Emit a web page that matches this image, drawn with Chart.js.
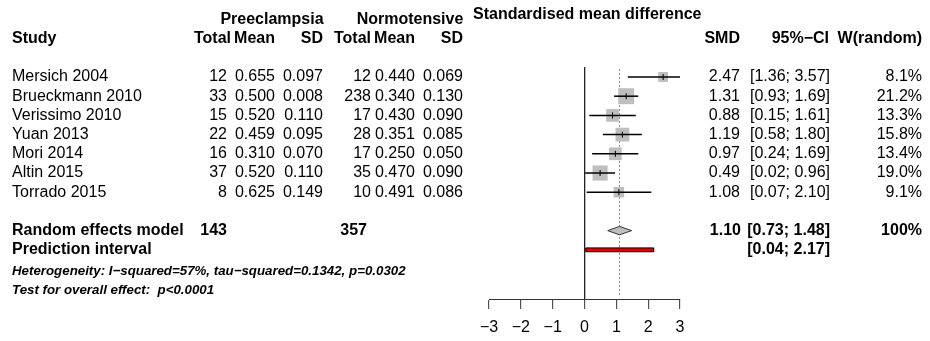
<!DOCTYPE html>
<html lang="en">
<head>
    <meta charset="UTF-8">
    <title>Forest plot</title>
    <style>
        body { margin: 0; background: #fff; }
        .wrap { width: 930px; height: 341px; position: relative; }
    </style>
</head>
<body>
    <div class="wrap">
        <canvas id="forest"></canvas>
    </div>

    <script src="https://cdn.jsdelivr.net/npm/chart.js"></script>
    <script>
        // Study data
        const studies = ['Mersich 2004', 'Brueckmann 2010', 'Verissimo 2010', 'Yuan 2013', 'Mori 2014', 'Altin 2015', 'Torrado 2015'];
        const peTotal = [12, 33, 15, 22, 16, 37, 8];
        const peMean = [0.655, 0.500, 0.520, 0.459, 0.310, 0.520, 0.625];
        const peSD = [0.097, 0.008, 0.110, 0.095, 0.070, 0.110, 0.149];
        const nTotal = [12, 238, 17, 28, 17, 35, 10];
        const nMean = [0.440, 0.340, 0.430, 0.351, 0.250, 0.470, 0.491];
        const nSD = [0.069, 0.130, 0.090, 0.085, 0.050, 0.090, 0.086];
        const smd = [2.47, 1.31, 0.88, 1.19, 0.97, 0.49, 1.08];
        const ciLow = [1.36, 0.93, 0.15, 0.58, 0.24, 0.02, 0.07];
        const ciHigh = [3.57, 1.69, 1.61, 1.80, 1.69, 0.96, 2.10];
        const weight = [8.1, 21.2, 13.3, 15.8, 13.4, 19.0, 9.1];

        // Random effects summary + prediction interval
        const pooled = [1.10, 0.73, 1.48];
        const predInt = [0.04, 2.17];
        const xTicks = [-3, -2, -1, 0, 1, 2, 3];

        const FONT = "'Liberation Sans', Arial, Helvetica, sans-serif";
        const rowPooled = 8, rowPred = 9;
        const yMin = -0.52, yMax = 11.56;

        const fmt = (v, d) => v.toFixed(d);
        const minus = s => String(s).replace(/-/g, '\u2212');
        const sum = a => a.reduce((p, c) => p + c, 0);

        // CI whiskers, one dataset per study
        const whiskers = studies.map((s, i) => ({
            data: [{ x: ciLow[i], y: i }, { x: ciHigh[i], y: i }],
            showLine: true,
            borderColor: '#000',
            borderWidth: 1.5,
            pointRadius: 0,
            order: 1
        }));

        const datasets = [
            {
                // small tick at point estimate
                data: smd.map((v, i) => ({ x: v, y: i })),
                pointStyle: 'line',
                pointRotation: 90,
                pointRadius: 3,
                pointBorderColor: '#000',
                pointBorderWidth: 1,
                order: 0
            },
            ...whiskers,
            {
                // weight squares
                data: smd.map((v, i) => ({ x: v, y: i })),
                pointStyle: 'rect',
                pointRadius: weight.map(w => 2.45 * Math.sqrt(w)),
                pointBackgroundColor: '#bebebe',
                pointBorderWidth: 0,
                order: 2
            },
            {
                // summary diamond
                data: [
                    { x: pooled[1], y: rowPooled },
                    { x: pooled[0], y: rowPooled - 0.22 },
                    { x: pooled[2], y: rowPooled },
                    { x: pooled[0], y: rowPooled + 0.22 },
                    { x: pooled[1], y: rowPooled }
                ],
                showLine: true,
                fill: 'shape',
                backgroundColor: '#bebebe',
                borderColor: '#333',
                borderWidth: 1,
                pointRadius: 0,
                order: 3
            },
            {
                // prediction interval bar
                data: [
                    { x: predInt[0], y: rowPred - 0.1 },
                    { x: predInt[1], y: rowPred - 0.1 },
                    { x: predInt[1], y: rowPred + 0.1 },
                    { x: predInt[0], y: rowPred + 0.1 },
                    { x: predInt[0], y: rowPred - 0.1 }
                ],
                showLine: true,
                fill: 'shape',
                backgroundColor: '#e00000',
                borderColor: '#000',
                borderWidth: 1,
                pointRadius: 0,
                order: 3
            },
            {
                // dotted line at the pooled estimate
                data: [{ x: pooled[0], y: yMin + 0.1 }, { x: pooled[0], y: yMax - 0.1 }],
                showLine: true,
                borderColor: '#888',
                borderWidth: 1,
                borderDash: [2, 2],
                pointRadius: 0,
                order: 4
            }
        ];

        // Table text drawn next to the plot
        const tablePlugin = {
            id: 'forestTable',
            afterDraw(chart) {
                const ctx = chart.ctx;
                const y = chart.scales.y;
                const reg = '16px ' + FONT;
                const bold = 'bold 16px ' + FONT;
                const txt = (s, x, row, align, font) => {
                    ctx.font = font || reg;
                    ctx.textAlign = align || 'right';
                    ctx.fillText(s, x, y.getPixelForValue(row));
                };
                ctx.save();
                ctx.fillStyle = '#000';
                ctx.textBaseline = 'middle';

                // headers
                txt('Preeclampsia', 272, -3, 'center', bold);
                txt('Normotensive', 410, -3, 'center', bold);
                txt('Standardised mean difference', 473, -3.25, 'left', bold);
                txt('Study', 12, -2, 'left', bold);
                txt('Total', 231, -2, 'right', bold);
                txt('Mean', 275, -2, 'right', bold);
                txt('SD', 323, -2, 'right', bold);
                txt('Total', 371, -2, 'right', bold);
                txt('Mean', 415, -2, 'right', bold);
                txt('SD', 463, -2, 'right', bold);
                txt('SMD', 740, -2, 'right', bold);
                txt(minus('95%-CI'), 829, -2, 'right', bold);
                txt('W(random)', 922, -2, 'right', bold);

                studies.forEach((s, i) => {
                    txt(s, 12, i, 'left');
                    txt(String(peTotal[i]), 227, i);
                    txt(fmt(peMean[i], 3), 275, i);
                    txt(fmt(peSD[i], 3), 323, i);
                    txt(String(nTotal[i]), 371, i);
                    txt(fmt(nMean[i], 3), 415, i);
                    txt(fmt(nSD[i], 3), 463, i);
                    txt(fmt(smd[i], 2), 740, i);
                    txt('[' + fmt(ciLow[i], 2) + '; ' + fmt(ciHigh[i], 2) + ']', 830, i);
                    txt(fmt(weight[i], 1) + '%', 922, i);
                });

                txt('Random effects model', 12, rowPooled, 'left', bold);
                txt(String(sum(peTotal)), 227, rowPooled, 'right', bold);
                txt(String(sum(nTotal)), 367, rowPooled, 'right', bold);
                txt(fmt(pooled[0], 2), 741, rowPooled, 'right', bold);
                txt('[' + fmt(pooled[1], 2) + '; ' + fmt(pooled[2], 2) + ']', 830, rowPooled, 'right', bold);
                txt('100%', 922, rowPooled, 'right', bold);

                txt('Prediction interval', 12, rowPred, 'left', bold);
                txt('[' + fmt(predInt[0], 2) + '; ' + fmt(predInt[1], 2) + ']', 830, rowPred, 'right', bold);

                const it = 'italic bold 13.3px ' + FONT;
                txt(minus('Heterogeneity: I-squared=57%, tau-squared=0.1342, p=0.0302'), 12, 10.1, 'left', it);
                txt('Test for overall effect:  p<0.0001', 12, 11.12, 'left', it);
                ctx.restore();
            }
        };

        new Chart(document.getElementById('forest'), {
            type: 'scatter',
            data: { datasets },
            options: {
                responsive: true,
                maintainAspectRatio: false,
                animation: false,
                events: [],
                layout: { padding: { left: 489, right: 250, top: 67, bottom: 0 } },
                plugins: {
                    legend: { display: false },
                    tooltip: { enabled: false }
                },
                scales: {
                    x: {
                        type: 'linear',
                        min: -3,
                        max: 3,
                        afterBuildTicks: s => { s.ticks = xTicks.map(v => ({ value: v })); },
                        afterFit: s => { s.height = 42; },
                        grid: {
                            color: c => (c.tick && c.tick.value === 0) ? '#222' : 'rgba(0,0,0,0)',
                            lineWidth: 1.3,
                            drawTicks: true,
                            tickLength: 10,
                            tickColor: '#333',
                            tickWidth: 1
                        },
                        border: { display: true, color: '#333', width: 1 },
                        ticks: {
                            color: '#000',
                            padding: 9,
                            autoSkip: false,
                            maxRotation: 0,
                            font: { size: 16, family: FONT },
                            callback: v => minus(v)
                        }
                    },
                    y: {
                        type: 'linear',
                        reverse: true,
                        min: yMin,
                        max: yMax,
                        display: false
                    }
                }
            },
            plugins: [tablePlugin]
        });
    </script>
</body>
</html>
